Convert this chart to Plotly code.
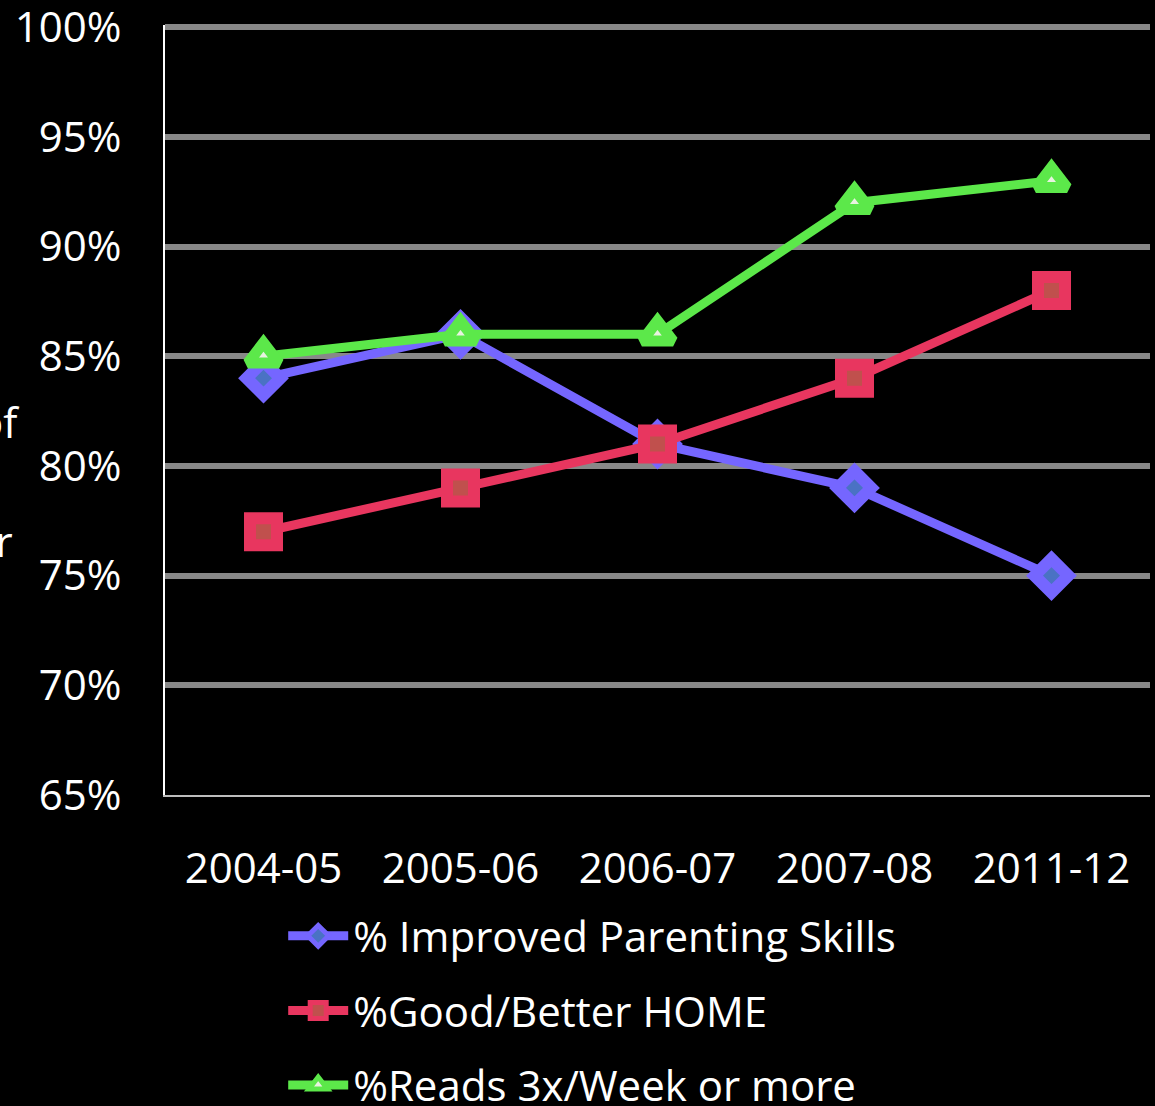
import plotly.graph_objects as go

categories = ["2004-05", "2005-06", "2006-07", "2007-08", "2011-12"]
parenting = [84, 86, 81, 79, 75]
home = [77, 79, 81, 84, 88]
reads = [85, 86, 86, 92, 93]
series_names = ["% Improved Parenting Skills", "%Good/Better HOME", "%Reads 3x/Week or more"]
y_ticks = [65, 70, 75, 80, 85, 90, 95, 100]
y_tick_text = [f"{v}%" for v in y_ticks]

FONT = "Open Sans"
fig = go.Figure()

specs = [
    (parenting, series_names[0], "#7566ff", "#4a72c4", "diamond", 26, 12),
    (home, series_names[1], "#e8365f", "#c0504d", "square", 27, 12),
    (reads, series_names[2], "#5ce84a", "#e8f2e0", "triangle-up", 27, 11),
]
for i, (vals, name, col, inner, sym, size, lw) in enumerate(specs):
    fig.add_trace(go.Scatter(
        x=categories, y=vals, name=name, mode="lines+markers",
        legendgroup=f"g{i}",
        line=dict(color=col, width=9),
        marker=dict(symbol=sym, size=size, color=inner, line=dict(color=col, width=lw)),
    ))

fig.update_layout(
    width=1155, height=1106,
    paper_bgcolor="black", plot_bgcolor="black",
    margin=dict(l=165, r=5, t=25, b=311, autoexpand=False),
    font=dict(family=FONT, color="white", size=42),
    showlegend=True,
    legend=dict(
        orientation="v", x=0.12, xanchor="left", y=-0.139, yanchor="top",
        font=dict(family=FONT, size=42, color="white"),
        bgcolor="rgba(0,0,0,0)", itemwidth=60, tracegroupgap=17,
    ),
    xaxis=dict(
        type="category", range=[-0.5, 4.5],
        showgrid=False, showline=True, linecolor="#bdbdbd", linewidth=2,
        ticks="", ticklabelstandoff=36,
        tickfont=dict(family=FONT, size=42, color="white"),
        zeroline=False,
    ),
    yaxis=dict(
        range=[65, 100.1], tickvals=y_ticks, ticktext=y_tick_text,
        showgrid=True, gridcolor="#888888", gridwidth=6,
        showline=True, linecolor="white", linewidth=2,
        ticks="", ticklabelstandoff=33, zeroline=False,
        ticklabeloverflow="allow",
        tickfont=dict(family=FONT, size=42, color="white"),
    ),
    annotations=[
        dict(text="Percentage of", xref="paper", yref="paper", x=-0.145, y=0.485,
             xanchor="right", yanchor="middle", showarrow=False,
             font=dict(family=FONT, size=42, color="white")),
        dict(text="Families or", xref="paper", yref="paper", x=-0.152, y=0.33,
             xanchor="right", yanchor="middle", showarrow=False,
             font=dict(family=FONT, size=42, color="white")),
    ],
)

fig.write_html("out.html")
